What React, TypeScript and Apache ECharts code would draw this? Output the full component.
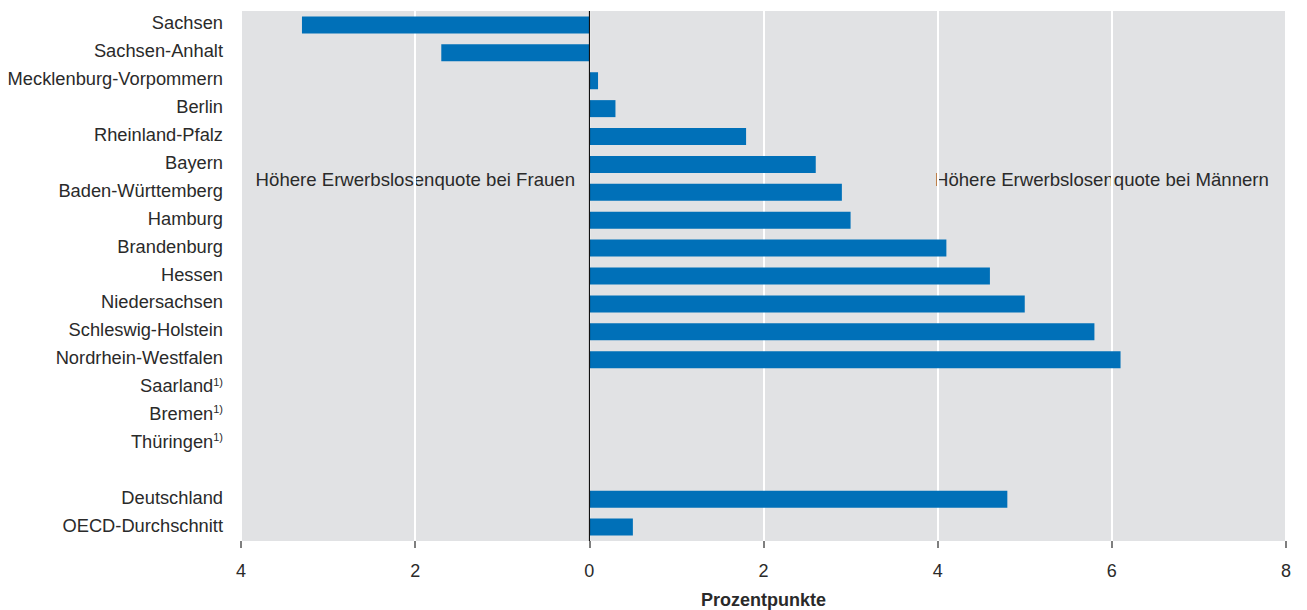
import React, { useEffect, useRef } from "react";
import * as echarts from "echarts";

const categories = [
  "Sachsen",
  "Sachsen-Anhalt",
  "Mecklenburg-Vorpommern",
  "Berlin",
  "Rheinland-Pfalz",
  "Bayern",
  "Baden-Württemberg",
  "Hamburg",
  "Brandenburg",
  "Hessen",
  "Niedersachsen",
  "Schleswig-Holstein",
  "Nordrhein-Westfalen",
  "Saarland¹",
  "Bremen¹",
  "Thüringen¹",
  "",
  "Deutschland",
  "OECD-Durchschnitt",
];

const values: (number | null)[] = [
  -3.3, -1.7, 0.1, 0.3, 1.8, 2.6, 2.9, 3.0, 4.1, 4.6, 5.0, 5.8, 6.1,
  null, null, null, null, 4.8, 0.5,
];

const axisMin = -4;
const axisMax = 8;
const axisStep = 2;
const axisTitle = "Prozentpunkte";
const noteLeft = "Höhere Erwerbslosenquote bei Frauen";
const noteRight = "Höhere Erwerbslosenquote bei Männern";

const FONT = "'Liberation Sans', Arial, Helvetica, sans-serif";
const TXT = "#2a2a2a";

export default function App() {
  const ref = useRef<HTMLDivElement>(null);
  useEffect(() => {
    document.body.style.margin = "0";
    if (!ref.current) return;
    const chart = echarts.init(ref.current, null, { renderer: "svg" });
    chart.setOption({
      animation: false,
      textStyle: { fontFamily: FONT },
      grid: {
        left: 241,
        right: 21,
        top: 11,
        bottom: 69,
        outerBoundsMode: "none",
        containLabel: false,
        show: true,
        backgroundColor: "#e1e2e4",
        borderWidth: 0,
      },
      xAxis: {
        type: "value",
        min: axisMin,
        max: axisMax,
        interval: axisStep,
        axisLine: { show: false },
        axisTick: { show: true, length: 7, lineStyle: { color: "#555", width: 1.5 } },
        axisLabel: {
          margin: 21,
          fontSize: 18,
          color: TXT,
          fontFamily: FONT,
          formatter: (v: number) => String(Math.abs(v)),
        },
        splitLine: { show: true, lineStyle: { color: "#ffffff", width: 2 } },
        name: axisTitle,
        nameLocation: "middle",
        nameGap: 50,
        nameTextStyle: { fontSize: 18, fontWeight: "bold", color: TXT, fontFamily: FONT },
      },
      yAxis: {
        type: "category",
        inverse: true,
        data: categories,
        axisLine: { show: false },
        axisTick: { show: false },
        axisLabel: {
          margin: 18,
          fontSize: 18.3,
          color: TXT,
          fontFamily: FONT,
          padding: [0, 0, 4, 0],
          formatter: (v: string) =>
            v.endsWith("¹") ? `{n|${v.slice(0, -1)}}{s|1)}` : `{n|${v}}`,
          rich: {
            n: { fontSize: 18.3, color: TXT, fontFamily: FONT },
            s: { fontSize: 11, color: TXT, fontFamily: FONT, padding: [0, 0, 8, 0] },
          },
        },
      },
      series: [
        {
          type: "bar",
          data: values,
          barWidth: 17,
          itemStyle: { color: "#0070b8" },
          markLine: {
            silent: true,
            symbol: "none",
            label: { show: false },
            lineStyle: { color: "#111", width: 1.2, type: "solid" },
            data: [{ xAxis: 0 }],
          },
        },
      ],
      graphic: [
        {
          type: "text",
          x: 575,
          y: 179,
          style: {
            text: noteLeft,
            fontSize: 18.6,
            fontFamily: FONT,
            fill: TXT,
            align: "right",
            verticalAlign: "middle",
          },
        },
        {
          type: "text",
          x: 935,
          y: 179,
          style: {
            text: noteRight,
            fontSize: 18.6,
            fontFamily: FONT,
            fill: TXT,
            align: "left",
            verticalAlign: "middle",
          },
        },
      ],
    });
    return () => chart.dispose();
  }, []);
  return <div ref={ref} style={{ width: 1307, height: 610 }} />;
}
